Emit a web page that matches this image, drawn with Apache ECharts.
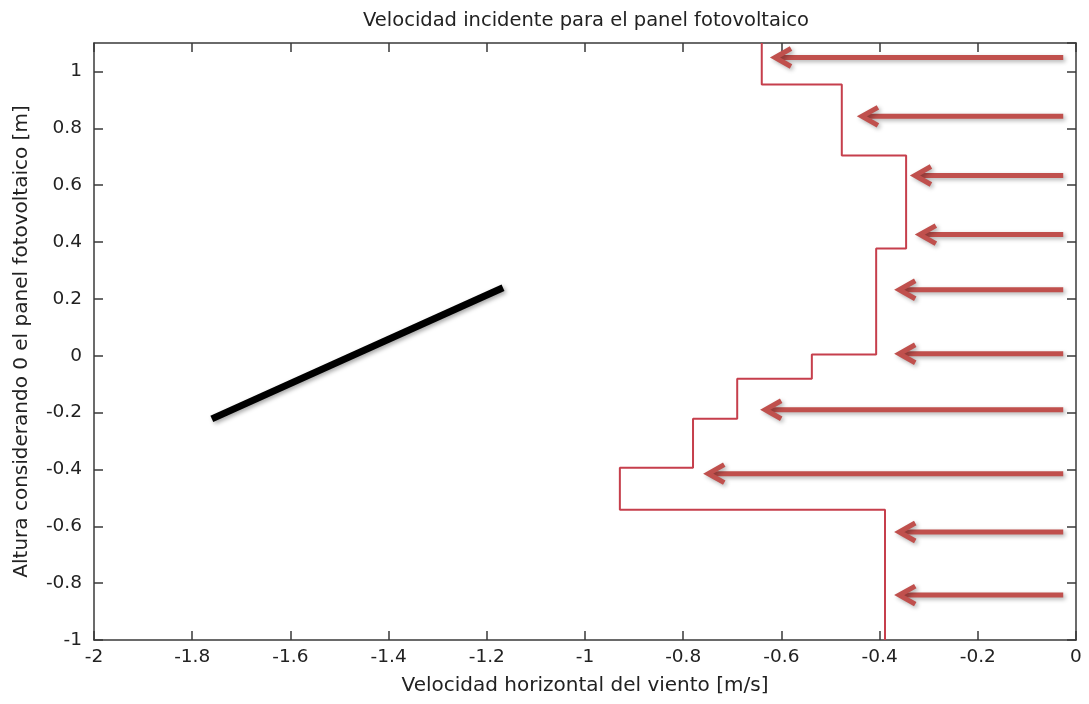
<!DOCTYPE html>
<html>
<head>
<meta charset="utf-8">
<script src="https://cdn.jsdelivr.net/npm/echarts@6/dist/echarts.min.js"></script>
<style>
  html, body { margin: 0; background: #fff; }
  #chart { width: 1089px; height: 704px; }
</style>
</head>
<body>
<div id="chart"></div>
<script>
// perfil de velocidad (escalones): velocidad de cada tramo y limites de altura
var stepVelocity = [-0.640, -0.477, -0.346, -0.407, -0.538, -0.690, -0.780, -0.929, -0.389];
var stepBounds = [1.1, 0.954, 0.704, 0.377, 0.004, -0.081, -0.222, -0.394, -0.542, -1];

// panel fotovoltaico
var panelX = [-1.760, -1.167];
var panelY = [-0.222, 0.239];

// flechas de viento incidente
var arrowHeights = [1.049, 0.842, 0.634, 0.426, 0.232, 0.007, -0.190, -0.415, -0.620, -0.842];
var arrowTips = [-0.613, -0.436, -0.328, -0.318, -0.360, -0.360, -0.633, -0.749, -0.360, -0.360];
var arrowTail = -0.026;

var stepPoints = [];
for (var i = 0; i < stepVelocity.length; i++) {
  stepPoints.push([stepVelocity[i], stepBounds[i]]);
  stepPoints.push([stepVelocity[i], stepBounds[i + 1]]);
}
var panelPoints = [[panelX[0], panelY[0]], [panelX[1], panelY[1]]];
var arrowData = arrowHeights.map(function (h, i) { return [arrowTail, h, arrowTips[i]]; });

var font = '"DejaVu Sans", Verdana, sans-serif';
var axisColor = '#3a3a3a';

function fmt(v) {
  var r = Math.round(v * 10) / 10;
  return r === 0 ? '0' : String(r);
}

var myChart = echarts.init(document.getElementById('chart'));
var option = {
  animation: false,
  backgroundColor: '#fff',
  title: {
    text: 'Velocidad incidente para el panel fotovoltaico',
    left: 581,
    textAlign: 'center',
    top: 6,
    textStyle: { fontFamily: font, fontSize: 19.5, fontWeight: 'normal', color: '#222' }
  },
  grid: { left: 94, right: 13, top: 43, bottom: 64 },
  xAxis: [{
    type: 'value', min: -2, max: 0, interval: 0.2,
    name: 'Velocidad horizontal del viento [m/s]',
    nameLocation: 'middle', nameGap: 36,
    nameTextStyle: { fontFamily: font, fontSize: 20, color: '#222' },
    axisLine: { onZero: false, lineStyle: { color: axisColor, width: 1.5 } },
    axisTick: { inside: true, length: 9, lineStyle: { color: axisColor, width: 1.5 } },
    axisLabel: { fontFamily: font, fontSize: 18.5, color: '#222', margin: 8, formatter: fmt },
    splitLine: { show: false }
  }, {
    type: 'value', min: -2, max: 0, interval: 0.2, position: 'top',
    axisLine: { onZero: false, lineStyle: { color: axisColor, width: 1.5 } },
    axisTick: { inside: true, length: 9, lineStyle: { color: axisColor, width: 1.5 } },
    axisLabel: { show: false },
    splitLine: { show: false }
  }],
  yAxis: [{
    type: 'value', min: -1, max: 1.1, interval: 0.2,
    name: 'Altura considerando 0 el panel fotovoltaico [m]',
    nameLocation: 'middle', nameGap: 62,
    nameTextStyle: { fontFamily: font, fontSize: 20, color: '#222' },
    axisLine: { show: true, onZero: false, lineStyle: { color: axisColor, width: 1.5 } },
    axisTick: { show: true, inside: true, length: 9, lineStyle: { color: axisColor, width: 1.5 } },
    axisLabel: { fontFamily: font, fontSize: 18.5, color: '#222', margin: 12, showMaxLabel: false, formatter: fmt },
    splitLine: { show: false }
  }, {
    type: 'value', min: -1, max: 1.1, interval: 0.2, position: 'right',
    axisLine: { show: true, onZero: false, lineStyle: { color: axisColor, width: 1.5 } },
    axisTick: { show: true, inside: true, length: 9, lineStyle: { color: axisColor, width: 1.5 } },
    axisLabel: { show: false },
    splitLine: { show: false }
  }],
  series: [{
    name: 'perfil',
    type: 'line',
    data: stepPoints,
    showSymbol: false,
    lineStyle: { color: '#c63f4c', width: 2 },
    z: 3
  }, {
    name: 'panel',
    type: 'line',
    data: panelPoints,
    showSymbol: false,
    lineStyle: {
      color: '#000', width: 7,
      shadowBlur: 4, shadowColor: 'rgba(0,0,0,0.35)', shadowOffsetX: 2, shadowOffsetY: 2
    },
    z: 3
  }, {
    name: 'viento',
    type: 'custom',
    data: arrowData,
    clip: false,
    z: 4,
    renderItem: function (params, api) {
      var a = api.coord([api.value(0), api.value(1)]);
      var b = api.coord([api.value(2), api.value(1)]);
      var style = {
        stroke: '#c0504d', lineWidth: 5, lineJoin: 'miter', fill: null,
        shadowBlur: 4, shadowColor: 'rgba(0,0,0,0.3)', shadowOffsetX: 2, shadowOffsetY: 2
      };
      return {
        type: 'group',
        children: [{
          type: 'line',
          shape: { x1: a[0], y1: a[1], x2: b[0] + 3, y2: b[1] },
          style: style
        }, {
          type: 'polyline',
          shape: { points: [[b[0] + 16, b[1] - 9], [b[0], b[1]], [b[0] + 16, b[1] + 9]] },
          style: style
        }]
      };
    }
  }]
};
myChart.setOption(option);
</script>
</body>
</html>
